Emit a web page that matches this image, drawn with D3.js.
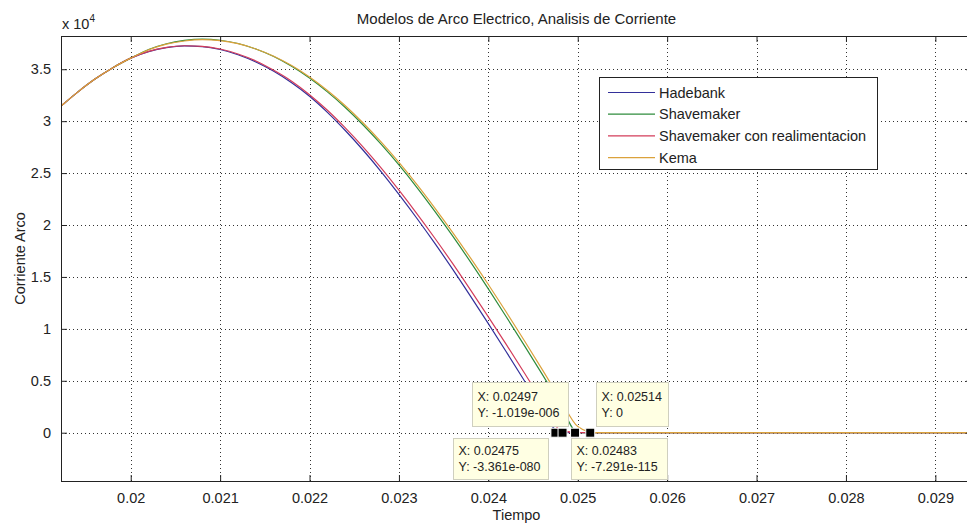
<!DOCTYPE html>
<html>
<head>
<meta charset="utf-8">
<script src="https://cdn.jsdelivr.net/npm/d3@7"></script>
<style>
  body { margin: 0; background: #fff; }
  text { font-family: "Liberation Sans", Arial, sans-serif; fill: #222; }
</style>
</head>
<body>
<div id="chart"></div>
<script>
// time samples (s)
const tiempo = [0.0192, 0.0194, 0.0196, 0.0198, 0.0200, 0.0202, 0.0204, 0.0206, 0.0208, 0.0210,
  0.0212, 0.0214, 0.0216, 0.0218, 0.0220, 0.0222, 0.0224, 0.0226, 0.0228, 0.0230,
  0.0232, 0.0234, 0.0236, 0.0238, 0.0240, 0.0242, 0.0244, 0.0246, 0.0248, 0.0250,
  0.0252, 0.0300];

// arc current, in units of 10^4 A
const hadebank = [3.13, 3.275, 3.405, 3.515, 3.607, 3.67, 3.708, 3.725, 3.718, 3.69,
  3.64, 3.57, 3.48, 3.37, 3.24, 3.085, 2.91, 2.72, 2.515, 2.295,
  2.065, 1.825, 1.575, 1.315, 1.05, 0.78, 0.505, 0.225, 0, 0,
  0, 0];
const shavemaker = [3.13, 3.275, 3.405, 3.515, 3.607, 3.69, 3.745, 3.777, 3.79, 3.779,
  3.748, 3.695, 3.622, 3.528, 3.415, 3.282, 3.132, 2.963, 2.778, 2.578,
  2.363, 2.134, 1.895, 1.645, 1.385, 1.117, 0.844, 0.566, 0.283, 0,
  0, 0];
const realimentacion = [3.13, 3.275, 3.405, 3.515, 3.607, 3.672, 3.71, 3.726, 3.72, 3.695,
  3.647, 3.58, 3.49, 3.385, 3.255, 3.105, 2.935, 2.75, 2.55, 2.335,
  2.11, 1.875, 1.63, 1.375, 1.115, 0.85, 0.58, 0.305, 0.03, 0,
  0, 0];
const kema = [3.13, 3.275, 3.405, 3.515, 3.607, 3.688, 3.742, 3.772, 3.785, 3.776,
  3.746, 3.695, 3.625, 3.535, 3.425, 3.295, 3.148, 2.982, 2.8, 2.603,
  2.392, 2.166, 1.93, 1.683, 1.427, 1.162, 0.89, 0.612, 0.33, 0.06,
  0, 0];

const seriesNames = ["Hadebank", "Shavemaker", "Shavemaker con realimentacion", "Kema"];
const seriesColors = ["#33309a", "#2f8c3c", "#d33c5a", "#dba23c"];
const seriesValues = [hadebank, shavemaker, realimentacion, kema];

const xTicks = [0.020, 0.021, 0.022, 0.023, 0.024, 0.025, 0.026, 0.027, 0.028, 0.029];
const yTicks = [0, 0.5, 1, 1.5, 2, 2.5, 3, 3.5];

// data cursors
const tipX = [0.02475, 0.02483, 0.02497, 0.02514];
const tipY = ["-3.361e-080", "-7.291e-115", "-1.019e-006", "0"];
// box placement relative to marker: [dx, dy, width, height]
const tipBox = [[-102, 5, 95, 41], [8, 5, 96, 41], [-103, -51, 96, 44], [6, -51, 72, 44]];

const WIDTH = 967, HEIGHT = 524;
const L = 61, T = 36, R = 972, B = 481;

const x = d3.scaleLinear().domain([0.01922, 0.02941]).range([L, R]);
const y = d3.scaleLinear().domain([-0.465, 3.82]).range([B, T]);

const svg = d3.select("#chart").append("svg")
  .attr("width", WIDTH)
  .attr("height", HEIGHT)
  .style("display", "block");

svg.append("rect").attr("width", WIDTH).attr("height", HEIGHT).attr("fill", "#fff");

svg.append("defs").append("clipPath").attr("id", "plot-clip")
  .append("rect").attr("x", L).attr("y", T).attr("width", R - L).attr("height", B - T);

// grid
const grid = svg.append("g")
  .attr("stroke", "#333")
  .attr("stroke-width", 1)
  .attr("stroke-dasharray", "1,3");
grid.selectAll(".gx").data(xTicks).join("line")
  .attr("x1", d => Math.round(x(d)) + 0.5).attr("x2", d => Math.round(x(d)) + 0.5)
  .attr("y1", T).attr("y2", B);
grid.selectAll(".gy").data(yTicks).join("line")
  .attr("y1", d => Math.round(y(d)) + 0.5).attr("y2", d => Math.round(y(d)) + 0.5)
  .attr("x1", L).attr("x2", R);

// curves
const line = d3.line()
  .x((d, i) => x(tiempo[i]))
  .y(d => y(d))
  .curve(d3.curveMonotoneX);

svg.append("g").attr("clip-path", "url(#plot-clip)")
  .selectAll("path")
  .data(seriesValues)
  .join("path")
  .attr("d", d => line(d))
  .attr("fill", "none")
  .attr("stroke", (d, i) => seriesColors[i])
  .attr("stroke-width", 1.2);

// axes (inward ticks, matlab style)
const xAxisB = d3.axisBottom(x).tickValues(xTicks).tickSize(-6).tickPadding(12)
  .tickFormat(d => String(+d.toFixed(3)));
const xAxisT = d3.axisTop(x).tickValues(xTicks).tickSize(-6).tickFormat("");
const yAxisL = d3.axisLeft(y).tickValues(yTicks).tickSize(-6).tickPadding(10)
  .tickFormat(d => String(d));
const yAxisR = d3.axisRight(y).tickValues(yTicks).tickSize(-6).tickFormat("");

function styleAxis(g) {
  g.select(".domain").remove();
  g.selectAll("line").attr("stroke", "#222");
  g.selectAll("text").attr("font-size", "14.5px").attr("fill", "#222");
}
svg.append("g").attr("transform", `translate(0,${B})`).call(xAxisB).call(styleAxis);
svg.append("g").attr("transform", `translate(0,${T})`).call(xAxisT).call(styleAxis);
svg.append("g").attr("transform", `translate(${L},0)`).call(yAxisL).call(styleAxis);
svg.append("g").attr("transform", `translate(${R},0)`).call(yAxisR).call(styleAxis);

svg.append("rect")
  .attr("x", L + 0.5).attr("y", T + 0.5)
  .attr("width", R - L).attr("height", B - T)
  .attr("fill", "none").attr("stroke", "#222").attr("stroke-width", 1);

// exponent label
const expo = svg.append("text").attr("x", 62).attr("y", 29).attr("font-size", "14.5px");
expo.append("tspan").text("x 10");
expo.append("tspan").attr("dy", -7).attr("font-size", "10px").text("4");

// titles
svg.append("text")
  .attr("x", (L + R) / 2).attr("y", 24)
  .attr("text-anchor", "middle").attr("font-size", "15px")
  .text("Modelos de Arco Electrico, Analisis de Corriente");
svg.append("text")
  .attr("x", (L + R) / 2).attr("y", 520)
  .attr("text-anchor", "middle").attr("font-size", "14.5px")
  .text("Tiempo");
svg.append("text")
  .attr("transform", `translate(25,${(T + B) / 2}) rotate(-90)`)
  .attr("text-anchor", "middle").attr("font-size", "14.5px")
  .text("Corriente Arco");

// legend
const legend = svg.append("g");
legend.append("rect")
  .attr("x", 599.5).attr("y", 77.5).attr("width", 278).attr("height", 92)
  .attr("fill", "#fff").attr("stroke", "#222");
const items = legend.selectAll(".item").data(seriesNames).join("g")
  .attr("transform", (d, i) => `translate(0,${92 + i * 21.7})`);
items.append("line")
  .attr("x1", 608).attr("x2", 655).attr("y1", 0.5).attr("y2", 0.5)
  .attr("stroke", (d, i) => seriesColors[i]).attr("stroke-width", 1.2);
items.append("text")
  .attr("x", 659).attr("y", 5.5).attr("font-size", "14.5px")
  .text(d => d);

// data tips
const tips = svg.append("g");
tipX.forEach((tx, i) => {
  const px = x(tx), py = y(0);
  const [dx, dy, w, h] = tipBox[i];
  const g = tips.append("g").attr("transform", `translate(${Math.round(px + dx) + 0.5},${Math.round(py + dy) + 0.5})`);
  g.append("rect").attr("width", w).attr("height", h)
    .attr("fill", "#ffffe3").attr("stroke", "#cfcfbf");
  g.append("text").attr("x", 5).attr("y", h / 2 - 4).attr("font-size", "12.5px").text(`X: ${tx}`);
  g.append("text").attr("x", 5).attr("y", h / 2 + 12).attr("font-size", "12.5px").text(`Y: ${tipY[i]}`);
});
tips.selectAll(".mk").data(tipX).join("rect")
  .attr("x", d => x(d) - 4.5).attr("y", y(0) - 4.5)
  .attr("width", 9).attr("height", 9)
  .attr("fill", "#000").attr("stroke", "#fff").attr("stroke-width", 1);
</script>
</body>
</html>
